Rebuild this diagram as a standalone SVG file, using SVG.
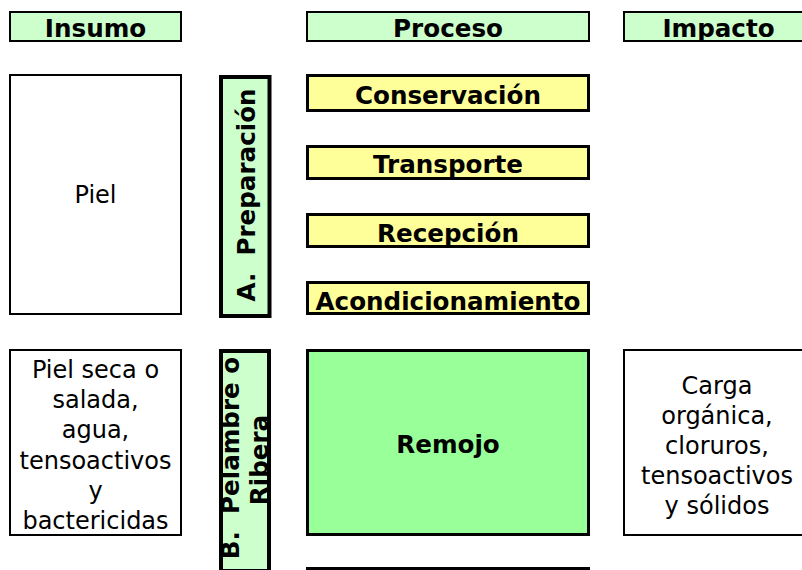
<svg xmlns="http://www.w3.org/2000/svg" width="802" height="570" viewBox="0 0 802 570">
<style>
  .hdr { fill: #CCFFCC; stroke: #000; stroke-width: 2; }
  .box { fill: #FFFFFF; stroke: #000; stroke-width: 2; }
  .yel { fill: #FFFF99; stroke: #000; stroke-width: 3; }
  .bar { fill: #CCFFCC; stroke: #000; stroke-width: 4; }
  .grn { fill: #99FF99; stroke: #000; stroke-width: 3; }
  text { font-family: "DejaVu Sans", Verdana, sans-serif; font-size: 24px; fill: #000; text-anchor: middle; }
  .b { font-weight: bold; font-size: 24.6px; }
</style>
<rect width="802" height="570" fill="#FFFFFF"/>
<g id="hdr-insumo">
  <rect class="hdr" x="10" y="12" width="171" height="29"/>
  <text class="b" x="95.5" y="36.5">Insumo</text>
</g>
<g id="hdr-proceso">
  <rect class="hdr" x="307" y="12" width="282" height="29"/>
  <text class="b" x="448" y="36.5">Proceso</text>
</g>
<g id="hdr-impacto">
  <rect class="hdr" x="624" y="12" width="190" height="29"/>
  <text class="b" x="718.5" y="36.5">Impacto</text>
</g>
<g id="insumo-piel">
  <rect class="box" x="10" y="75" width="171" height="239"/>
  <text x="95.5" y="203">Piel</text>
</g>
<g id="etapa-a">
  <rect class="bar" x="221" y="77" width="48.5" height="239"/>
  <text class="b" xml:space="preserve" transform="translate(254.5,195) rotate(-90)">A.  Preparación</text>
</g>
<g id="conservacion">
  <rect class="yel" x="307.5" y="75.5" width="281" height="35"/>
  <text class="b" x="448" y="103.5">Conservación</text>
</g>
<g id="transporte">
  <rect class="yel" x="307.5" y="146.5" width="281" height="32"/>
  <text class="b" x="448" y="173">Transporte</text>
</g>
<g id="recepcion">
  <rect class="yel" x="307.5" y="214.5" width="281" height="32"/>
  <text class="b" x="448" y="241.5">Recepción</text>
</g>
<g id="acondicionamiento">
  <rect class="yel" x="307.5" y="282.5" width="281" height="31"/>
  <text class="b" x="448" y="310">Acondicionamiento</text>
</g>
<g id="insumo-remojo">
  <rect class="box" x="10" y="350" width="171" height="185"/>
  <text x="95.5" y="377.7">Piel seca o</text>
  <text x="95.5" y="408">salada,</text>
  <text x="95.5" y="438.3">agua,</text>
  <text x="95.5" y="468.6">tensoactivos</text>
  <text x="95.5" y="498.9">y</text>
  <text x="95.5" y="529">bactericidas</text>
</g>
<g id="etapa-b">
  <rect class="bar" x="221" y="351" width="48" height="220"/>
  <text class="b" xml:space="preserve" transform="translate(239,458) rotate(-90)">B.  Pelambre o</text>
  <text class="b" transform="translate(268,460) rotate(-90)">Ribera</text>
</g>
<g id="remojo">
  <rect class="grn" x="307.5" y="350.5" width="281" height="184"/>
  <text class="b" x="448" y="453">Remojo</text>
</g>
<g id="impacto-remojo">
  <rect class="box" x="624" y="350" width="190" height="185"/>
  <text x="717" y="394">Carga</text>
  <text x="717" y="424">orgánica,</text>
  <text x="717" y="454">cloruros,</text>
  <text x="717" y="484">tensoactivos</text>
  <text x="717" y="514">y sólidos</text>
</g>
<g id="siguiente">
  <rect class="box" style="stroke-width:3" x="307.5" y="568.5" width="281" height="20"/>
</g>
<g id="connectors"></g>
</svg>
